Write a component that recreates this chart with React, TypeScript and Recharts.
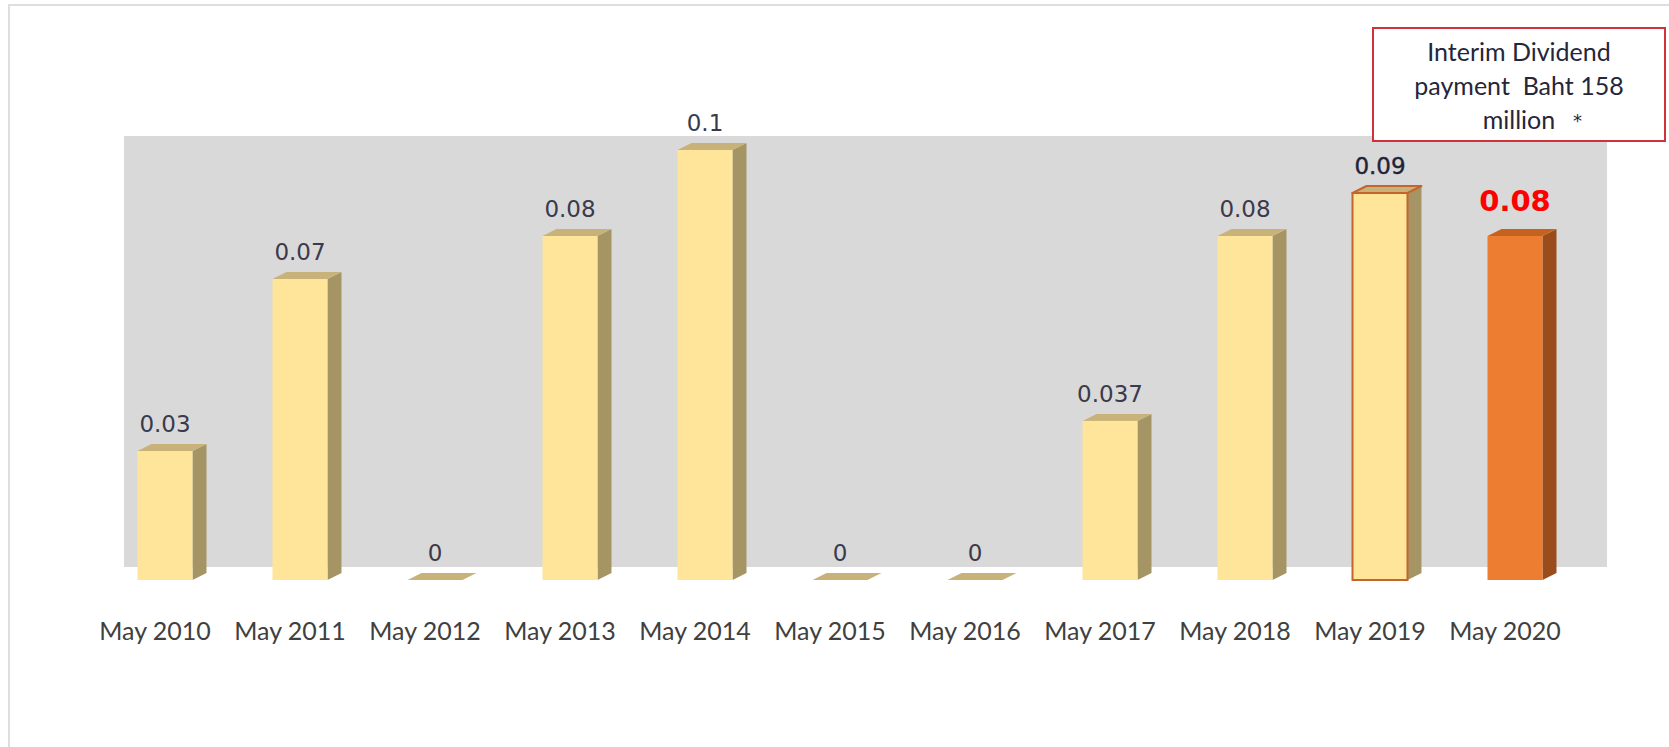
import { Bar, BarChart, LabelList, XAxis, YAxis } from 'recharts';

const years = ['May 2010', 'May 2011', 'May 2012', 'May 2013', 'May 2014', 'May 2015', 'May 2016', 'May 2017', 'May 2018', 'May 2019', 'May 2020'];
const dividend = [0.03, 0.07, 0, 0.08, 0.1, 0, 0, 0.037, 0.08, 0.09, 0.08];
const labels = ['0.03', '0.07', '0', '0.08', '0.1', '0', '0', '0.037', '0.08', '0.09', '0.08'];
const noteLines = ['Interim Dividend', 'payment  Baht 158', 'million'];

const data = years.map((year, i) => ({ year, value: dividend[i], label: labels[i] }));

const DX = 14;
const DY = 7;

const plain = { front: '#fee599', side: '#a69564', top: '#c9b27a', stroke: 'none' };
const outlined = { front: '#fee599', side: '#a69564', top: '#c9b27a', stroke: '#c4652b' };
const highlight = { front: '#ed7d31', side: '#9a4c1c', top: '#c5621f', stroke: 'none' };

function paletteFor(index: number) {
  if (index === 9) return outlined;
  if (index === 10) return highlight;
  return plain;
}

function Bar3D(props: any) {
  const { x, y, width, height, index } = props;
  const c = paletteFor(index);
  const h = Math.max(height, 0);
  const sw = c.stroke === 'none' ? 0 : 2;
  const top = `${x},${y} ${x + DX},${y - DY} ${x + width + DX},${y - DY} ${x + width},${y}`;
  const side = `${x + width},${y} ${x + width + DX},${y - DY} ${x + width + DX},${y + h - DY} ${x + width},${y + h}`;
  return (
    <g>
      {h > 0 && <polygon points={side} fill={c.side} />}
      <polygon points={top} fill={c.top} stroke={c.stroke} strokeWidth={sw} strokeLinejoin="round" />
      {h > 0 && <rect x={x} y={y} width={width} height={h} fill={c.front} stroke={c.stroke} strokeWidth={sw} />}
    </g>
  );
}

function ValueLabel(props: any) {
  const { x, y, width, index, value } = props;
  const cx = x + width / 2;
  if (index === 10) {
    return (
      <text x={cx} y={y - 35} textAnchor="middle" dominantBaseline="central" fontFamily="DejaVu Sans" fontWeight="bold" fontSize={29} fill="#ff0000">
        {value}
      </text>
    );
  }
  return (
    <text x={cx} y={y - 27} textAnchor="middle" dominantBaseline="central" fontFamily="DejaVu Sans" fontSize={23} fill={index === 9 ? '#1e2438' : '#3a3a4c'} stroke={index === 9 ? '#1e2438' : 'none'} strokeWidth={0.4}>
      {value}
    </text>
  );
}

function YearTick(props: any) {
  const { x, y, payload } = props;
  return (
    <text x={x - 10} y={y + 52} textAnchor="middle" fontFamily="Lato" fontSize={25} fill="#404040">
      {payload.value}
    </text>
  );
}

export default function App() {
  return (
    <div style={{ position: 'absolute', left: 0, top: 0, width: 1669, height: 747, background: '#fff', overflow: 'hidden' }}>
      <div style={{ position: 'absolute', left: 8, top: 4, right: -2, bottom: -2, borderLeft: '2px solid #dedede', borderTop: '2px solid #dedede' }} />
      <div style={{ position: 'absolute', left: 124, top: 136, width: 1483, height: 431, background: '#d9d9d9' }} />
      <div style={{ position: 'absolute', left: 0, top: 0 }}>
        <BarChart width={1669} height={747} data={data} margin={{ top: 150, right: 86.5, bottom: 107, left: 97.5 }}>
          <XAxis dataKey="year" height={60} axisLine={false} tickLine={false} interval={0} tick={<YearTick />} />
          <YAxis hide domain={[0, 0.1]} />
          <Bar dataKey="value" barSize={55} shape={<Bar3D />} isAnimationActive={false}>
            <LabelList dataKey="label" content={<ValueLabel />} />
          </Bar>
        </BarChart>
      </div>
      <div
        style={{
          position: 'absolute',
          left: 1372,
          top: 27,
          width: 290,
          height: 106,
          border: '2px solid #d0323b',
          background: '#fff',
          fontFamily: 'Lato',
          fontSize: 25,
          color: '#26263a',
          textAlign: 'center',
          lineHeight: '34px',
          paddingTop: 5,
          whiteSpace: 'pre',
          boxSizing: 'content-box',
        }}
      >
        {noteLines.map((line, i) => (
          <div key={line} style={{ position: 'relative' }}>
            {line}
            {i === 2 && <span style={{ position: 'absolute', left: 199, top: 2, fontFamily: 'DejaVu Sans', fontSize: 18 }}>*</span>}
          </div>
        ))}
      </div>
    </div>
  );
}
